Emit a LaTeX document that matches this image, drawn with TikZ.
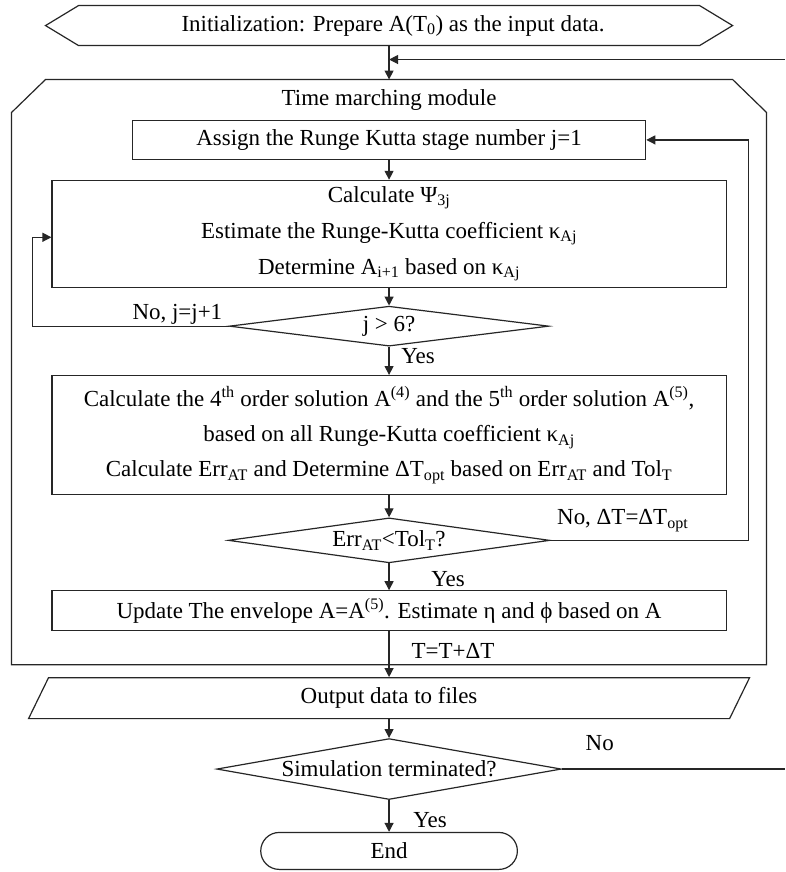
\documentclass[tikz,border=0pt]{standalone}
\usepackage{fontspec}
\setmainfont{Liberation Serif}
\usetikzlibrary{arrows.meta,shapes.geometric}
\begin{document}
\begin{tikzpicture}[x=1pt,y=-1pt,
  font=\fontsize{23}{27}\selectfont,
  line width=1.2pt,
  every path/.style={draw=black!85},
  arr/.style={-{Triangle[length=9pt,width=9pt]}},
  box/.style={draw=black!85, rectangle, inner sep=0pt, align=center},
  dia/.style={draw=black!85, diamond, inner sep=0pt},
  lbl/.style={inner sep=0pt, align=center}]
\useasboundingbox (0,0) rectangle (785,872);
\fill[white] (0,0) rectangle (785,872);

% initialization
\node[lbl, minimum width=650, minimum height=40] (init) at (393,25) {Initialization: Prepare A(T\textsubscript{0}) as the input data.};
\draw (45,25) -- (78,5) -- (700,5) -- (733,25) -- (700,45) -- (78,45) -- cycle;

% module
\coordinate (mtop) at (389,79);
\draw (45,79) -- (733,79) -- (767,112) -- (767,665) -- (11,665) -- (11,112) -- cycle;
\node[lbl] (modt) at (389,100) {Time marching module};
\draw[arr] (init.south -| mtop) -- (mtop);
\coordinate (rin) at (785,59);
\draw[arr] (rin) -- (rin -| mtop);

% assign
\node[box, minimum width=514, minimum height=39] (assign) at (389,139.5) {Assign the Runge Kutta stage number j=1};

% calculate
\node[box, minimum width=675, minimum height=107, font=\fontsize{23}{36}\selectfont] (calc) at (389,233.5)
  {Calculate Ψ\textsubscript{3j}\\ Estimate the Runge-Kutta coefficient κ\textsubscript{Aj}\\ Determine A\textsubscript{i+1} based on κ\textsubscript{Aj}};
\draw[arr] (assign) -- (calc);

% j > 6
\node[dia, minimum width=320, minimum height=40] (dj) at (389,326) {};
\node[lbl] (djt) at (dj) {j > 6?};
\draw[arr] (calc) -- (dj);
\coordinate (lx) at (32,237);
\draw[arr] (dj.west) -| (lx) -- (calc.west |- lx);
\node[lbl] (noj) at (177,314) {No, j=j+1};
\node[lbl] (y1) at (418,356) {Yes};

% 4th/5th order
\node[box, minimum width=675, minimum height=119, font=\fontsize{23}{35}\selectfont] (c4) at (389,435)
  {Calculate the 4\textsuperscript{th} order solution A\textsuperscript{(4)} and the 5\textsuperscript{th} order solution A\textsuperscript{(5)},\\
   based on all Runge-Kutta coefficient κ\textsubscript{Aj}\\
   Calculate Err\textsubscript{AT} and Determine ΔT\textsubscript{opt} based on Err\textsubscript{AT} and Tol\textsubscript{T}};
\draw[arr] (dj) -- (c4);

% error check
\node[dia, minimum width=322, minimum height=45] (de) at (389,540.5) {};
\node[lbl] (det) at (de) {Err\textsubscript{AT}<Tol\textsubscript{T}?};
\draw[arr] (c4) -- (de);
\coordinate (rx) at (749,139.5);
\draw[arr] (de.east) -| (rx) -- (assign.east |- rx);
\node[lbl] (nod) at (623,521) {No, ΔT=ΔT\textsubscript{opt}};
\node[lbl] (y2) at (448,579) {Yes};

% update
\node[box, minimum width=675, minimum height=40] (upd) at (389,611) {Update The envelope A=A\textsuperscript{(5)}. Estimate η and ϕ based on A};
\draw[arr] (de) -- (upd);
\node[lbl] (tt) at (453,651) {T=T+ΔT};

% output
\node[lbl, minimum width=680, minimum height=41] (out) at (389,698.5) {Output data to files};
\draw (48,678) -- (750,678) -- (730,719) -- (28,719) -- cycle;
\draw[arr] (upd) -- (out.north);

% simulation terminated
\node[dia, minimum width=345, minimum height=61] (ds) at (389,769.5) {};
\node[lbl] (dst) at (ds) {Simulation terminated?};
\draw[arr] (out.south) -- (ds);
\coordinate (sr) at (785,769.5);
\draw (ds.east) -- (sr);
\node[lbl] (no3) at (600,744) {No};

% end
\node[draw=black!85, rounded corners=18.5pt, minimum width=257, minimum height=37, inner sep=0pt] (end) at (389,851.5) {End};
\draw[arr] (ds) -- (end);
\node[lbl] (y3) at (430,821) {Yes};
\end{tikzpicture}
\end{document}
